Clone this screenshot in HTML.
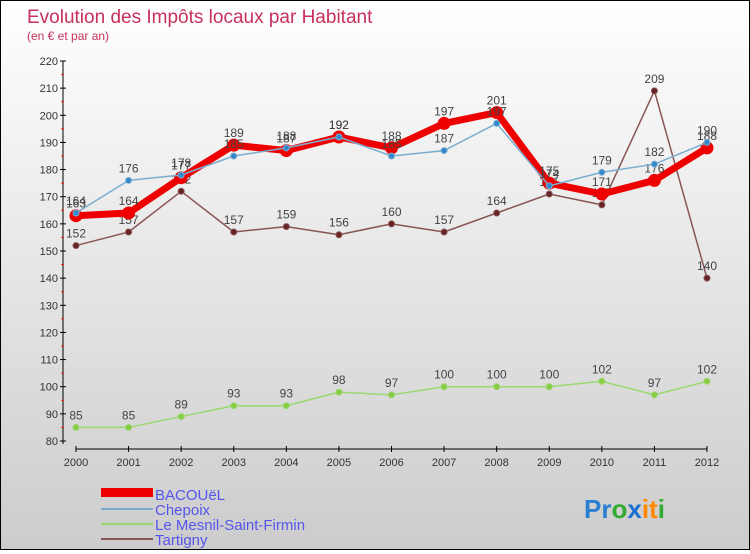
<!DOCTYPE html>
<html><head><meta charset="utf-8"><style>
body{margin:0;width:750px;height:550px;overflow:hidden;font-family:"Liberation Sans",sans-serif;}
#wrap{position:relative;width:748px;height:548px;border:1px solid #000;background:linear-gradient(#fff,#ccc);}
svg text{font-family:"Liberation Sans",sans-serif;}
</style></head><body>
<div id="wrap">
<svg id="chart" width="748" height="548">
<text x="26" y="22" font-size="19" fill="#c8305c">Evolution des Impôts locaux par Habitant</text>
<text x="26" y="39" font-size="12" fill="#c8305c">(en € et par an)</text>
<g id="axes"></g><g id="series"></g>
<g>
<rect x="100" y="487" width="52" height="9" fill="#e00"/>
<text x="154" y="499" font-size="15" fill="#5555ee">BACOUëL</text>
<rect x="100" y="507" width="52" height="2" fill="#7aaed0"/>
<text x="154" y="514" font-size="15" fill="#5555ee">Chepoix</text>
<rect x="100" y="522" width="52" height="2" fill="#9ad870"/>
<text x="154" y="529" font-size="15" fill="#5555ee">Le Mesnil-Saint-Firmin</text>
<rect x="100" y="537" width="52" height="2" fill="#8a5555"/>
<text x="154" y="544" font-size="15" fill="#5555ee">Tartigny</text>
</g>
<text x="583" y="517" font-size="26" font-weight="bold"><tspan fill="#2a7fd0">Pr</tspan><tspan fill="#3a3">o</tspan><tspan fill="#1a6fd0">x</tspan><tspan fill="#f80">it</tspan><tspan fill="#3a3">i</tspan></text>
</svg></div>
<script>
const years=[2000,2001,2002,2003,2004,2005,2006,2007,2008,2009,2010,2011,2012];
const yTicks=[80,90,100,110,120,130,140,150,160,170,180,190,200,210,220];
const bacouel=[163,164,177,189,187,192,188,197,201,175,171,176,188];
const chepoix=[164,176,178,185,188,192,185,187,197,174,179,182,190];
const mesnil=[85,85,89,93,93,98,97,100,100,100,102,97,102];
const tartigny=[152,157,172,157,159,156,160,157,164,171,167,209,140];
const NS="http://www.w3.org/2000/svg";
const x0=75,x1=706,yMin=80,yMax=220,py0=440,py1=60;
const xs=i=>x0+(x1-x0)*i/(years.length-1);
const ys=v=>py0-(v-yMin)*(py0-py1)/(yMax-yMin);
function mk(t,a,p){const e=document.createElementNS(NS,t);for(const k in a)e.setAttribute(k,a[k]);p.appendChild(e);return e;}
const ax=document.getElementById('axes');
let e=mk('line',{x1:62,y1:py1,x2:62,y2:py0+3,stroke:'#000'},ax);


e=mk('line',{x1:x0,y1:448,x2:x1,y2:448,stroke:'#000'},ax);


yTicks.forEach(v=>{const y=ys(v);mk('line',{x1:59,y1:y,x2:65,y2:y,stroke:'#000'},ax);
if(v<yMax)mk('line',{x1:60,y1:y-(py0-py1)/28,x2:63,y2:y-(py0-py1)/28,stroke:'#e22'},ax);
const t=mk('text',{x:57,y:y+4,'font-size':11,'text-anchor':'end',fill:'#333'},ax);t.textContent=v;

});
years.forEach((yr,i)=>{const x=xs(i);mk('line',{x1:x,y1:445,x2:x,y2:451,stroke:'#000'},ax);
const t=mk('text',{x:x,y:465,'font-size':11,'text-anchor':'middle',fill:'#333'},ax);t.textContent=yr;

});
const sg=document.getElementById('series');
function draw(name,data,color,dot,w,r){
const g=mk('g',{},sg);


const p=mk('polyline',{points:data.map((v,i)=>xs(i)+','+ys(v)).join(' '),fill:'none',stroke:color,'stroke-width':w,'stroke-linejoin':'round'},g);


data.forEach((v,i)=>{const c=mk('circle',{cx:xs(i),cy:ys(v),r:r,fill:dot,stroke:color,'stroke-width':1},g);


const t=mk('text',{x:xs(i),y:ys(v)-8,'font-size':12,'text-anchor':'middle',fill:'#444'},g);t.textContent=v;

});}
draw('mesnil',mesnil,'#9ad870','#8c4',1.5,3);
draw('tartigny',tartigny,'#8a5555','#622',1.5,3);
draw('bacouel',bacouel,'#e00','#e00',7,6);
draw('chepoix',chepoix,'#7aaed0','#38c',1.5,3);
</script></body></html>
